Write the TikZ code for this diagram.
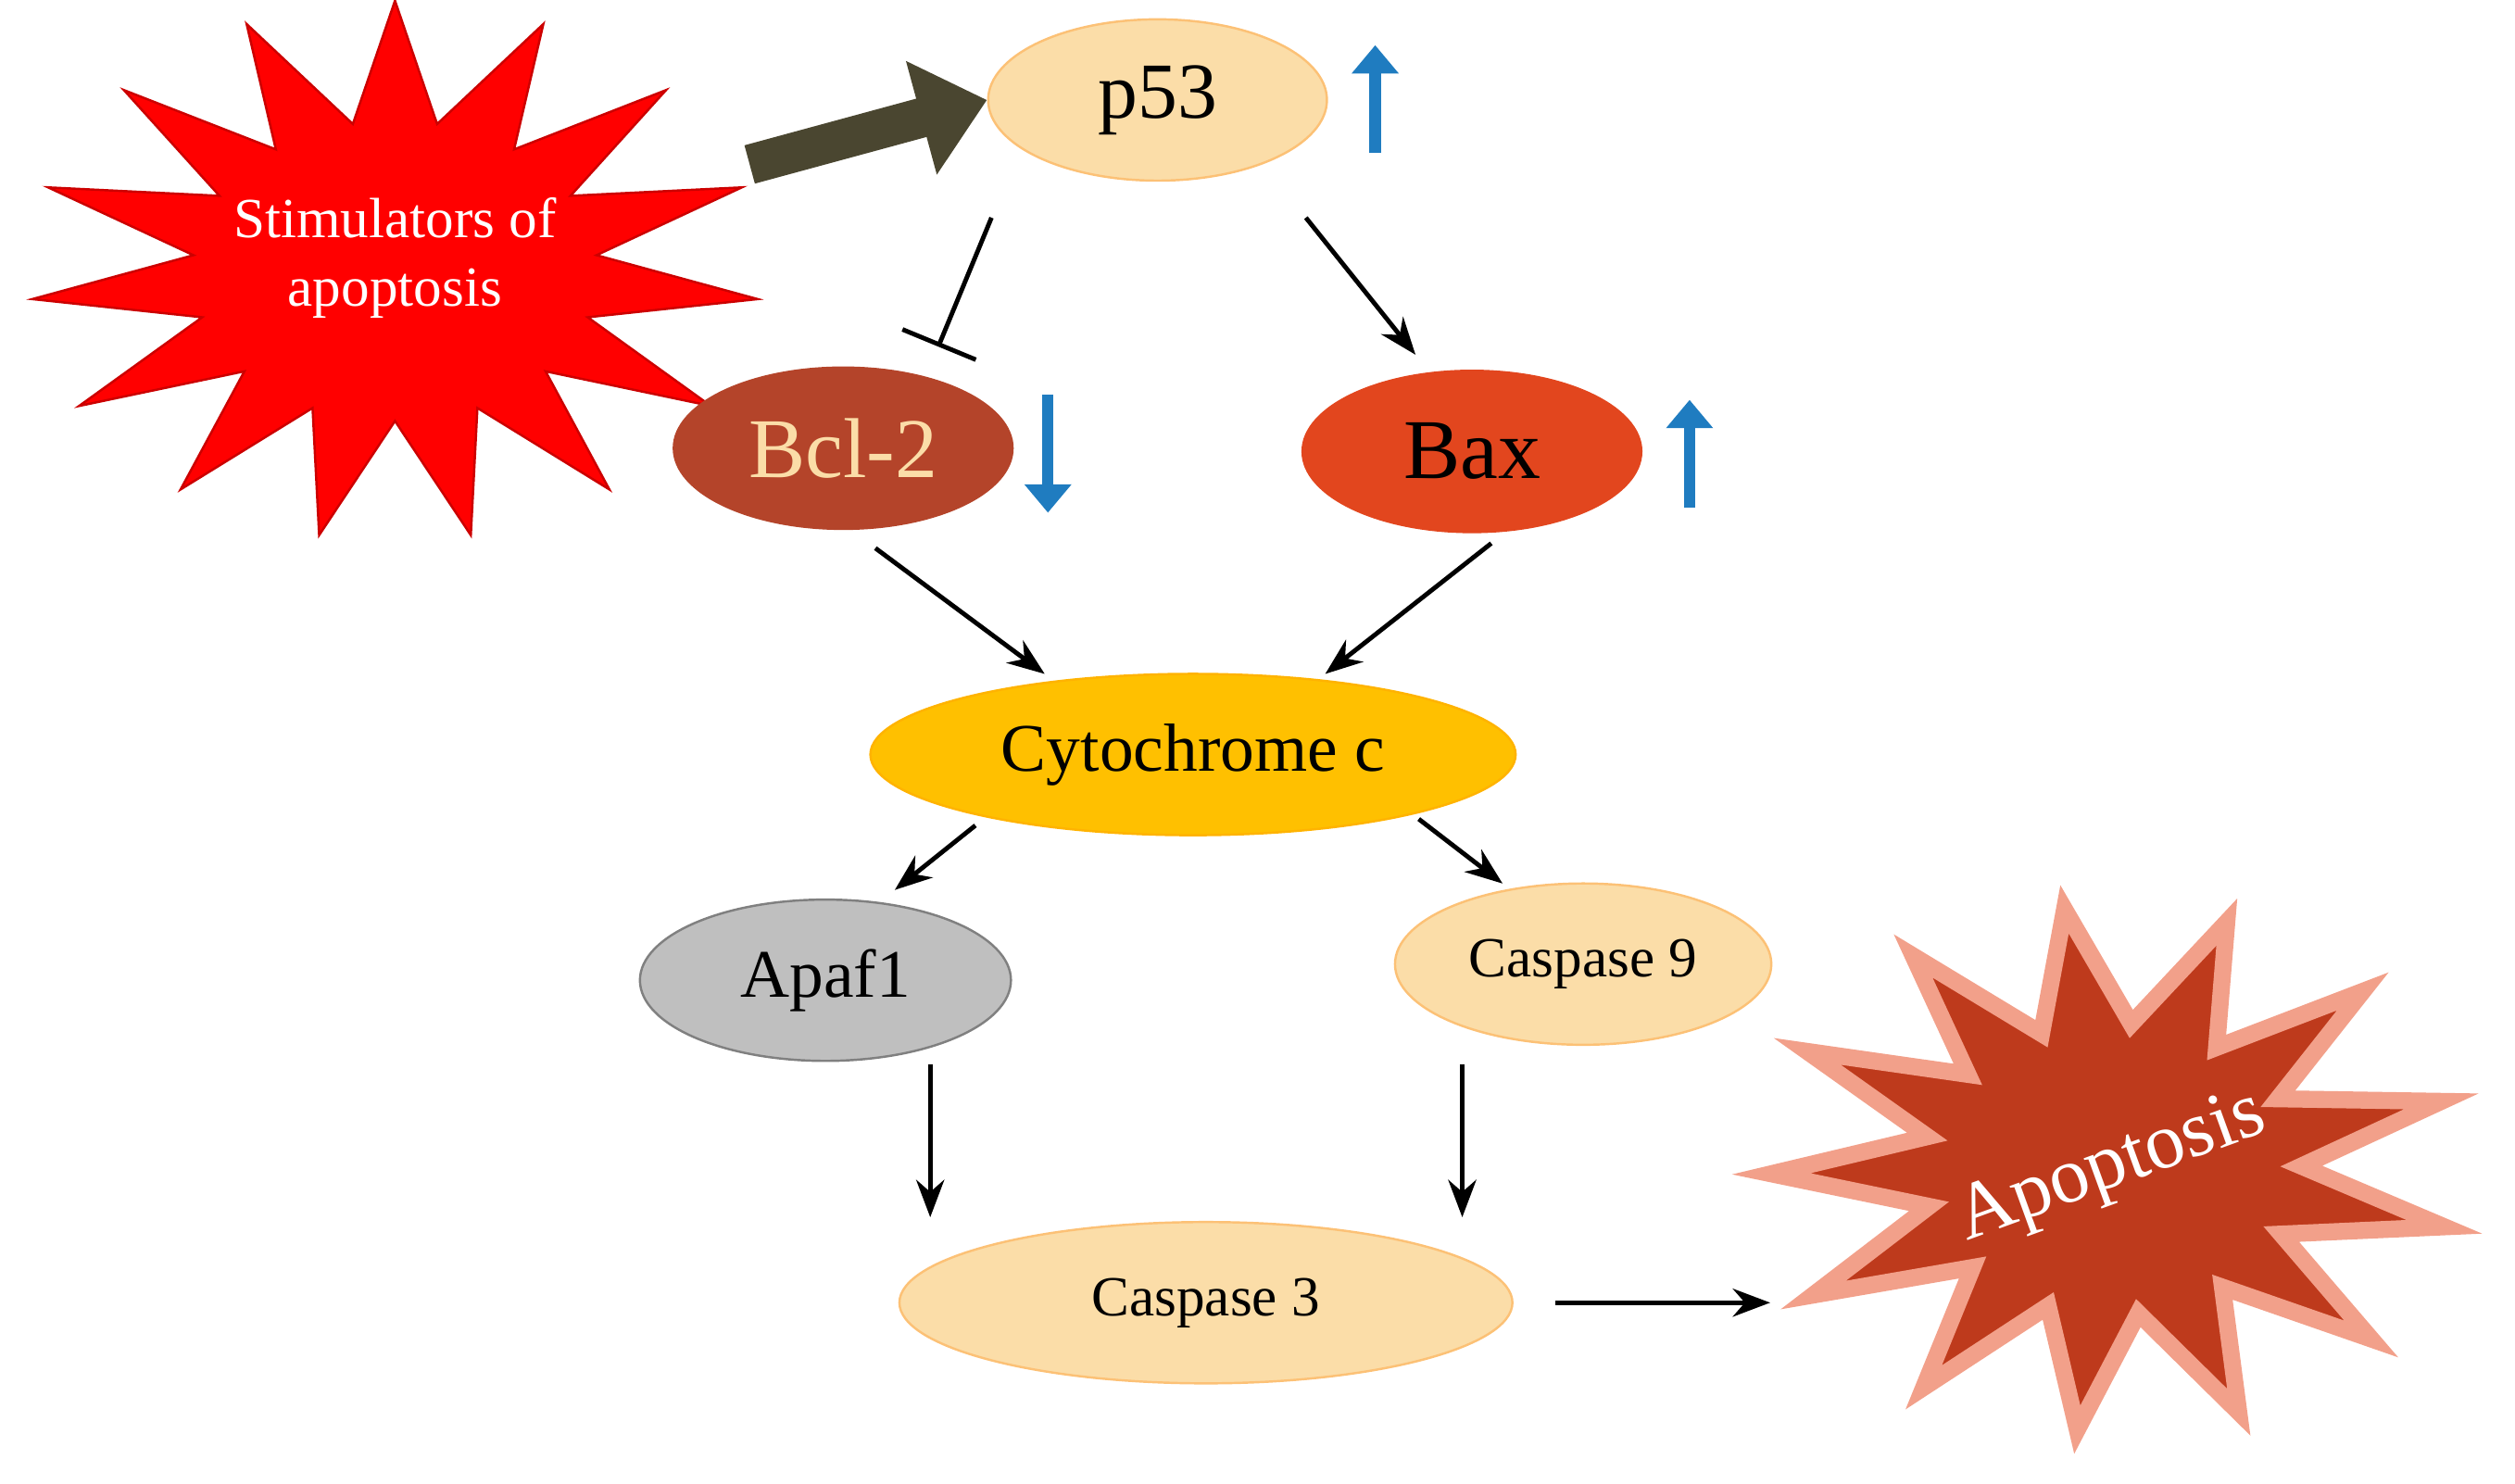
\documentclass[tikz,border=0pt]{standalone}
\usepackage{fontspec}
\setmainfont{Liberation Serif}
\usetikzlibrary{shapes.geometric, arrows.meta}
\definecolor{peach}{HTML}{FBDDA8}
\definecolor{bclred}{HTML}{B4442A}
\definecolor{baxred}{HTML}{E2461E}
\definecolor{gold}{HTML}{FFC000}
\definecolor{apgray}{HTML}{BFBFBF}
\definecolor{olivedark}{HTML}{4A4630}
\definecolor{blueup}{HTML}{1F7CC0}
\definecolor{apored}{HTML}{BE3A1C}
\definecolor{salmon}{HTML}{F2A08A}
\tikzstyle{prot} = [ellipse, minimum width=2.1cm, minimum height=1cm, text centered, draw=peach!70!orange, fill=peach]
\tikzstyle{arrow} = [thick,->,>=Stealth]
\tikzstyle{change} = [line width=2pt, color=blueup, -{Triangle[length=5pt,width=8pt]}]
\begin{document}
\begin{tikzpicture}[x=0.01cm, y=-0.01cm]
            \useasboundingbox (0,0) rectangle (1560,920);
            % bursts
            \begin{scope}[shift={(245,168)}, xscale=1.35]
              \node(burst1) [star, star points=15, star point ratio=1.8, minimum size=3.35cm, fill=red, draw=red!80!black, transform shape] {};
            \end{scope}
            \node(stim) [text=white, align=center, font=\fontsize{10}{12}\selectfont] at (245,160) {Stimulators of\\apoptosis};
            \begin{scope}[shift={(1310,725)}, xscale=1.3, rotate=8]
              \node(burst2) [star, star points=13, star point ratio=1.8, minimum size=3.25cm, fill=apored, draw=salmon, line width=3pt, transform shape] {};
            \end{scope}
            \node(apop) [text=white, rotate=20, font=\fontsize{14}{16}\selectfont] at (1310,725) {Apoptosis};

            % proteins
            \node(p53) [prot, font=\fontsize{14}{16}\selectfont] at (718,62) {p53};
            \node(bcl) [prot, fill=bclred, draw=bclred, text=peach, font=\fontsize{15}{17}\selectfont] at (523,278) {Bcl-2};
            \node(bax) [prot, fill=baxred, draw=baxred, font=\fontsize{15}{17}\selectfont] at (913,280) {Bax};
            \node(cyto) [prot, fill=gold, draw=gold!80!orange, minimum width=4cm, font=\fontsize{12}{14}\selectfont] at (740,468) {Cytochrome c};
            \node(apaf) [prot, fill=apgray, draw=gray, minimum width=2.3cm, font=\fontsize{12}{14}\selectfont] at (512,608) {Apaf1};
            \node(cas9) [prot, minimum width=2.3cm, font=\fontsize{10}{12}\selectfont] at (982,598) {Caspase 9};
            \node(cas3) [prot, minimum width=3.8cm, font=\fontsize{10}{12}\selectfont] at (748,808) {Caspase 3};

            % up/down markers
            \coordinate(u1a) at (853,95); \coordinate(u1b) at (853,28);
            \coordinate(d1a) at (650,245); \coordinate(d1b) at (650,318);
            \coordinate(u2a) at (1048,315); \coordinate(u2b) at (1048,248);
            \draw[change] (u1a) -- (u1b);
            \draw[change] (d1a) -- (d1b);
            \draw[change] (u2a) -- (u2b);

            % arrow ends
            \coordinate(s0) at (465,102);
            \coordinate(p53l) at (615,135); \coordinate(bclt) at (582,215);
            \coordinate(p53r) at (810,135); \coordinate(baxt) at (878,220);
            \coordinate(bclb) at (543,340); \coordinate(cytl) at (648,418);
            \coordinate(baxb) at (925,337); \coordinate(cytr) at (822,418);
            \coordinate(cytbl) at (605,512); \coordinate(apaft) at (555,552);
            \coordinate(cytbr) at (880,508); \coordinate(cas9t) at (932,548);
            \coordinate(apafb) at (577,660); \coordinate(cas3l) at (577,755);
            \coordinate(cas9b) at (907,660); \coordinate(cas3r) at (907,755);
            \coordinate(cas3e) at (965,808); \coordinate(ap0) at (1098,808);

            % connectors
            \draw[line width=7pt, color=olivedark, -{Triangle[length=12pt,width=20pt]}] (s0) -- (p53.west);
            \draw[thick, -{Bar[width=14pt]}] (p53l) -- (bclt);
            \draw[arrow] (p53r) -- (baxt);
            \draw[arrow] (bclb) -- (cytl);
            \draw[arrow] (baxb) -- (cytr);
            \draw[arrow] (cytbl) -- (apaft);
            \draw[arrow] (cytbr) -- (cas9t);
            \draw[arrow] (apafb) -- (cas3l);
            \draw[arrow] (cas9b) -- (cas3r);
            \draw[arrow] (cas3e) -- (ap0);
\end{tikzpicture}
\end{document}
